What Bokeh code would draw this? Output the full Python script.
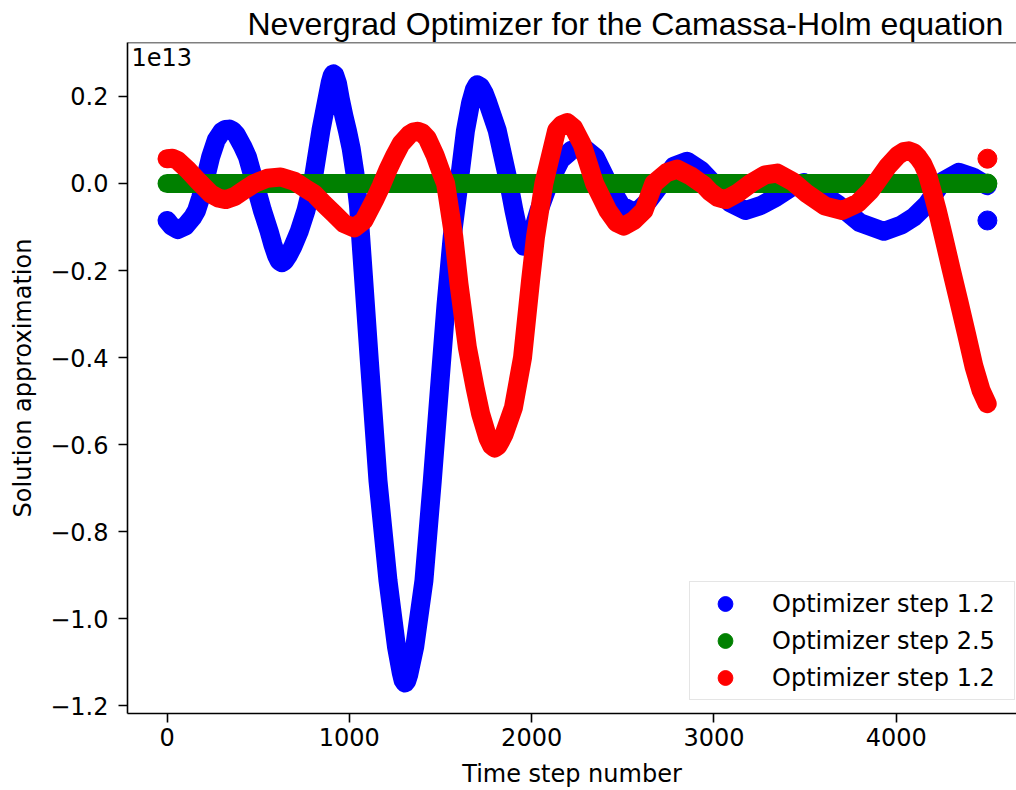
from bokeh.plotting import figure
from bokeh.embed import file_html
from bokeh.resources import INLINE
from bokeh.models import (Range1d, FixedTicker, CustomJSTickFormatter, Label,
                          Legend, LegendItem, Span)

# ---------------- data (values in units of 1e13) ----------------
title_text = "Nevergrad Optimizer for the Camassa-Holm equation"
x_label = "Time step number"
y_label = "Solution approximation"
offset_text = "1e13"
series_labels = ["Optimizer step 1.2", "Optimizer step 2.5", "Optimizer step 1.2"]
x_ticks = [0, 1000, 2000, 3000, 4000]
y_ticks = [-1.2, -1.0, -0.8, -0.6, -0.4, -0.2, 0.0, 0.2]

blue_t = [0, 25, 58, 100, 140, 162, 185, 204, 239, 270, 300, 320, 341, 360, 380, 415,
          441, 482, 523, 560, 580, 600, 615, 630, 645, 665, 690, 725, 762, 798, 844,
          880, 895, 905, 912, 920, 935, 950, 970, 990, 1010, 1030, 1050, 1075, 1110,
          1157, 1212, 1259, 1285, 1295, 1305, 1315, 1325, 1358, 1409, 1455, 1500, 1530,
          1564, 1601, 1637, 1665, 1685, 1701, 1720, 1740, 1760, 1811, 1875, 1903, 1930,
          1945, 1957, 1970, 1990, 2040, 2094, 2160, 2220, 2286, 2350, 2420, 2490, 2570,
          2640, 2711, 2780, 2853, 2930, 3009, 3090, 3173, 3260, 3340, 3420, 3493, 3580,
          3676, 3800, 3932, 4030, 4097, 4170, 4255, 4343, 4420, 4499]
blue_v = [-0.085, -0.098, -0.106, -0.098, -0.078, -0.062, -0.032, 0.000, 0.061, 0.100,
          0.119, 0.124, 0.125, 0.121, 0.112, 0.085, 0.061, 0.000, -0.062, -0.110,
          -0.140, -0.165, -0.178, -0.182, -0.178, -0.165, -0.145, -0.110, -0.062, 0.000,
          0.122, 0.200, 0.232, 0.247, 0.252, 0.249, 0.230, 0.195, 0.155, 0.120, 0.080,
          0.025, -0.050, -0.200, -0.410, -0.683, -0.913, -1.066, -1.125, -1.142, -1.148,
          -1.143, -1.130, -1.066, -0.913, -0.683, -0.440, -0.280, -0.123, 0.000, 0.122,
          0.185, 0.215, 0.227, 0.222, 0.207, 0.185, 0.122, 0.000, -0.062, -0.115,
          -0.137, -0.144, -0.142, -0.132, -0.062, 0.000, 0.055, 0.077, 0.082, 0.060,
          0.000, -0.050, -0.068, -0.040, 0.000, 0.040, 0.051, 0.030, -0.005, -0.045,
          -0.062, -0.050, -0.032, -0.010, 0.002, -0.020, -0.047, -0.090, -0.110, -0.095,
          -0.077, -0.047, 0.005, 0.026, 0.015, -0.005]

green_t = [0, 1000, 2000, 3000, 4000, 4499]
green_v = [0.0, 0.0, 0.0, 0.0, 0.0, 0.0]

red_t = [0, 30, 58, 110, 167, 240, 285, 323, 370, 420, 478, 550, 624, 700, 760, 807,
         860, 917, 970, 1027, 1080, 1137, 1175, 1210, 1250, 1283, 1330, 1350, 1374, 1400,
         1427, 1470, 1500, 1528, 1573, 1601, 1647, 1690, 1720, 1760, 1780, 1797, 1815,
         1830, 1850, 1900, 1950, 1994, 2021, 2067, 2137, 2165, 2195, 2230, 2277, 2345,
         2418, 2465, 2506, 2560, 2616, 2670, 2740, 2798, 2870, 2945, 2981, 3020, 3064,
         3130, 3201, 3280, 3347, 3430, 3512, 3610, 3704, 3790, 3859, 3951, 4010, 4040,
         4069, 4095, 4120, 4145, 4170, 4195, 4225, 4256, 4300, 4343, 4385, 4426, 4465,
         4499]
red_v = [0.057, 0.058, 0.053, 0.033, 0.007, -0.024, -0.034, -0.037, -0.030, -0.016,
         0.000, 0.012, 0.015, 0.005, -0.012, -0.024, -0.047, -0.070, -0.092, -0.102,
         -0.085, -0.039, -0.005, 0.030, 0.065, 0.091, 0.113, 0.118, 0.120, 0.116,
         0.104, 0.065, 0.030, 0.000, -0.123, -0.230, -0.376, -0.470, -0.529, -0.585,
         -0.602, -0.608, -0.603, -0.592, -0.575, -0.515, -0.400, -0.223, -0.123, 0.000,
         0.122, 0.135, 0.140, 0.128, 0.090, 0.000, -0.062, -0.090, -0.098, -0.085,
         -0.062, 0.000, 0.025, 0.033, 0.018, -0.004, -0.020, -0.032, -0.037, -0.022,
         0.000, 0.020, 0.024, 0.005, -0.024, -0.052, -0.062, -0.045, -0.016, 0.038,
         0.065, 0.073, 0.075, 0.071, 0.060, 0.045, 0.022, -0.015, -0.062, -0.116,
         -0.195, -0.270, -0.345, -0.420, -0.475, -0.506]

# final (periodic) sample of each series
end_t = [4500]
blue_end = [-0.085]
green_end = [0.0]
red_end = [0.057]

colors = ["#0000ff", "#008000", "#ff0000"]

# ---------------- figure ----------------
FONT = "DejaVu Sans"
p = figure(width=1016, height=790,
           x_range=Range1d(-217, 4659.6), y_range=Range1d(-1.218, 0.324),
           output_backend="svg", toolbar_location=None,
           min_border_left=127, min_border_right=0,
           min_border_top=42, min_border_bottom=77,
           background_fill_color="white", border_fill_color="white")
p.outline_line_color = None
p.xgrid.visible = False
p.ygrid.visible = False

# title (standard title panel above the frame)
p.title.text = title_text
p.title.text_font = "Liberation Sans"
p.title.text_font_size = "32px"
p.title.text_font_style = "normal"
p.title.text_color = "black"
p.title.align = "left"
p.title.offset = 120
p.title.standoff = 2
p.title.background_fill_color = None

LW = 19
renderers = []
for ts, vs, et, ev, c in [(blue_t, blue_v, end_t, blue_end, colors[0]),
                          (green_t, green_v, end_t, green_end, colors[1]),
                          (red_t, red_v, end_t, red_end, colors[2])]:
    p.line(ts, vs, line_width=LW, line_color=c, line_cap="round", line_join="round")
    r = p.scatter(et, ev, size=LW, marker="circle", fill_color=c, line_color=c)
    renderers.append(r)

# axes
for ax in (p.xaxis[0], p.yaxis[0]):
    ax.axis_line_width = 1.6
    ax.axis_line_color = "black"
    ax.major_tick_line_width = 1.6
    ax.major_tick_line_color = "black"
    ax.major_tick_out = 9
    ax.major_tick_in = 0
    ax.minor_tick_out = 0
    ax.minor_tick_in = 0
    ax.major_label_text_font = FONT
    ax.major_label_text_font_size = "24px"
    ax.major_label_text_color = "black"
    ax.axis_label_text_font = FONT
    ax.axis_label_text_font_size = "24px"
    ax.axis_label_text_font_style = "normal"
    ax.axis_label_text_color = "black"

p.xaxis.ticker = FixedTicker(ticks=x_ticks)
p.xaxis.axis_label = x_label
p.xaxis.major_label_standoff = 5
p.xaxis.axis_label_standoff = 11

p.yaxis.ticker = FixedTicker(ticks=y_ticks)
p.yaxis.formatter = CustomJSTickFormatter(
    code="return (tick < -1e-9 ? '\u2212' : '') + Math.abs(tick).toFixed(1);")
p.yaxis.axis_label = y_label
p.yaxis.major_label_standoff = 10
p.yaxis.axis_label_standoff = 10

# top spine
p.add_layout(Span(location=0.324, dimension="width", line_color="black", line_width=1.6))

# offset text of the y axis, kept at the top-left corner of the plot area
p.add_layout(Label(x=4, y=666, x_units="screen", y_units="screen", text=offset_text,
                   text_font=FONT, text_font_size="24px", text_color="black",
                   text_baseline="top", text_align="left", level="overlay"))

legend = Legend(items=[LegendItem(label=series_labels[i], renderers=[renderers[i]])
                       for i in range(3)],
                location=(562, 13), margin=0, padding=3, spacing=0,
                glyph_width=64, glyph_height=37, label_height=37, label_width=239,
                label_standoff=15,
                label_text_font=FONT, label_text_font_size="24px", label_text_color="black",
                border_line_color="#cccccc", border_line_width=1.5,
                background_fill_color="white", background_fill_alpha=0.8)
p.add_layout(legend)

with open("out.html", "w", encoding="utf-8") as f:
    f.write(file_html(p, INLINE))
